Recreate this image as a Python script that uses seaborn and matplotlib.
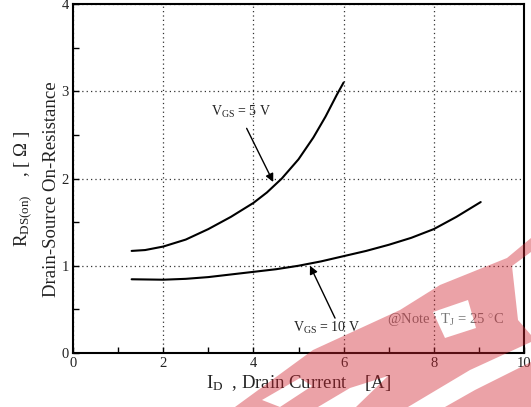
import numpy as np
import pandas as pd
import matplotlib
matplotlib.use('Agg')
import matplotlib.pyplot as plt
from matplotlib.path import Path
from matplotlib.patches import PathPatch
import seaborn as sns

# Rds(on) vs drain current
ID_5V = [1.3, 1.6, 2.0, 2.5, 3.0, 3.5, 4.0, 4.3, 4.63, 5.0, 5.33, 5.6, 5.85, 6.0]
RDS_5V = [1.17, 1.18, 1.22, 1.30, 1.42, 1.56, 1.72, 1.84, 2.0, 2.22, 2.47, 2.71, 2.96, 3.1]
ID_10V = [1.3, 2.0, 2.5, 3.0, 3.5, 4.0, 4.5, 5.0, 5.5, 6.0, 6.5, 7.0, 7.5, 8.0, 8.5, 9.04]
RDS_10V = [0.845, 0.84, 0.85, 0.87, 0.90, 0.93, 0.96, 1.0, 1.05, 1.11, 1.17, 1.24, 1.32, 1.42, 1.56, 1.73]
SERIES = ['VGS=5V', 'VGS=10V']
X_TICKS = [0, 2, 4, 6, 8, 10]
Y_TICKS = [0, 1, 2, 3, 4]

W, H = 531, 407


def px(x, y):
    return (x / W, 1 - y / H)


def main() -> None:
    sns.set_style('ticks')
    plt.rcParams['font.family'] = ['Liberation Serif', 'DejaVu Serif']
    plt.rcParams['mathtext.fontset'] = 'custom'
    plt.rcParams['mathtext.rm'] = 'Liberation Serif'
    plt.rcParams['mathtext.it'] = 'Liberation Serif'

    df = pd.concat([
        pd.DataFrame({'ID': ID_5V, 'RDS': RDS_5V, 'curve': SERIES[0]}),
        pd.DataFrame({'ID': ID_10V, 'RDS': RDS_10V, 'curve': SERIES[1]}),
    ])

    fig = plt.figure(figsize=(W / 100, H / 100), dpi=100)
    ax = fig.add_axes([73 / W, 1 - 353 / H, (524 - 73) / W, (353 - 4) / H])
    sns.lineplot(data=df, x='ID', y='RDS', hue='curve', units='curve', estimator=None,
                 palette={SERIES[0]: 'black', SERIES[1]: 'black'}, linewidth=1.5,
                 legend=False, sort=False, ax=ax)

    ax.set_xlim(0, 10)
    ax.set_ylim(0, 4)
    ax.set_xticks(X_TICKS)
    ax.set_yticks(Y_TICKS)
    ax.set_xticks(np.arange(1, 10, 2), minor=True)
    ax.set_yticks(np.arange(0.5, 4, 1), minor=True)
    ax.tick_params(which='both', direction='in', length=4, width=1, color='black',
                   labelsize=10.5, labelcolor='#222222', pad=3)
    ax.grid(True, which='major', linestyle=(0, (1, 2.5)), color='#333333', linewidth=0.9)
    for s in ax.spines.values():
        s.set_visible(True)
        s.set_linewidth(1.5)
        s.set_color('black')

    ax.set_xlabel(r'$\mathrm{I_{D}}$  , Drain Current    [A]', fontsize=13.5, color='#222222', labelpad=2)
    ax.set_ylabel('$\\mathrm{R_{DS(on)}}$    , [ \u03a9 ]\nDrain-Source On-Resistance',
                  fontsize=13.5, color='#222222', labelpad=0, linespacing=1.75)
    ax.yaxis.set_label_coords(-0.028, 0.47)

    arrow = dict(arrowstyle='-|>', color='black', lw=1.0, mutation_scale=12,
                 shrinkA=0, shrinkB=0)
    ax.annotate(r'$\mathrm{V_{GS}}$ = 5 V', xy=(4.44, 1.96), xytext=(3.05, 2.76),
                fontsize=10, ha='left', va='center', color='#222222')
    ax.annotate('', xy=(4.44, 1.96), xytext=(3.85, 2.575), arrowprops=arrow)
    ax.annotate(r'$\mathrm{V_{GS}}$ = 10 V', xy=(5.25, 1.0), xytext=(4.88, 0.29),
                fontsize=10, ha='left', va='center', color='#222222')
    ax.annotate('', xy=(5.255, 1.0), xytext=(5.81, 0.40), arrowprops=arrow)
    ax.text(6.96, 0.38, r'@Note : $\mathrm{T_{J}}$ = 25 $^{\circ}$C', fontsize=10.5,
            color='#777777', ha='left', va='center')

    # watermark band in the lower right corner
    band = [(235, 407), (313, 350), (400, 310), (440, 285), (507, 258), (531, 238), (531, 407)]
    holes = [
        [(318, 407), (350, 388), (388, 376), (356, 407)],
        [(433, 312), (468, 300), (476, 328), (445, 338)],
        [(512, 266), (531, 252), (531, 335), (518, 320)],
        [(408, 407), (470, 370), (531, 342), (531, 362), (475, 390), (445, 407)],
        [(262, 400), (300, 378), (312, 386), (280, 407)],
    ]
    verts, codes = [], []
    for poly in [band] + [h[::-1] for h in holes]:
        pts = [px(*p) for p in poly]
        verts += pts + [pts[0]]
        codes += [Path.MOVETO] + [Path.LINETO] * (len(pts) - 1) + [Path.CLOSEPOLY]
    patch = PathPatch(Path(verts, codes), transform=fig.transFigure,
                      facecolor='#d0222e', edgecolor='none', alpha=0.42, zorder=10)
    fig.add_artist(patch)

    fig.savefig('out.png', dpi=100)


if __name__ == '__main__':
    main()
